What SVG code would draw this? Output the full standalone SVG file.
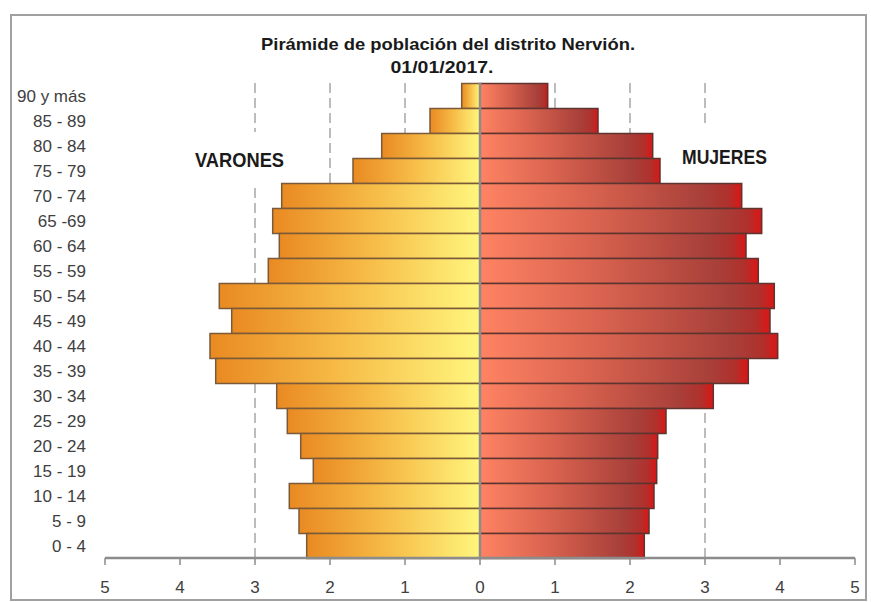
<svg xmlns="http://www.w3.org/2000/svg" width="871" height="602" viewBox="0 0 871 602">
<style>
.lbl{font-family:"Liberation Sans",Arial,sans-serif;font-size:17px;fill:#404040;text-anchor:end}
.ax{font-family:"Liberation Sans",Arial,sans-serif;font-size:17px;fill:#404040;text-anchor:middle}
.ttl{font-family:"Liberation Sans",Arial,sans-serif;font-size:17px;font-weight:bold;fill:#1a1a1a;text-anchor:middle}
.big{font-family:"Liberation Sans",Arial,sans-serif;font-size:20px;font-weight:bold;fill:#1a1a1a}
.grid{stroke:#A6A6A6;stroke-width:1.5;stroke-dasharray:10 5;fill:none}
.m{fill:url(#gm);stroke:#7A5A38;stroke-width:1.5}
.w{fill:url(#gw);stroke:#5E3430;stroke-width:1.5}
</style>
<defs>
<linearGradient id="gm" x1="0" y1="0" x2="1" y2="0">
<stop offset="0" stop-color="#E98A22"/>
<stop offset="0.45" stop-color="#F6BA45"/>
<stop offset="1" stop-color="#FFF67E"/>
</linearGradient>
<linearGradient id="gw" x1="0" y1="0" x2="1" y2="0">
<stop offset="0" stop-color="#FF8363"/>
<stop offset="0.4" stop-color="#DA6450"/>
<stop offset="0.85" stop-color="#A8403A"/>
<stop offset="0.95" stop-color="#B0302C"/>
<stop offset="1" stop-color="#DD1515"/>
</linearGradient>
</defs>
<rect x="0" y="0" width="871" height="602" fill="#fff"/>
<rect id="frame" x="11" y="15" width="855" height="585" fill="#fff" stroke="#A0A0A0" stroke-width="2"/>
<g id="title">
<text class="ttl" x="448" y="50" textLength="374" lengthAdjust="spacingAndGlyphs">Pirámide de población del distrito Nervión.</text>
<text class="ttl" x="442" y="73" textLength="103" lengthAdjust="spacingAndGlyphs">01/01/2017.</text>
</g>
<g id="gridlines">
<line class="grid" x1="255" y1="83" x2="255" y2="558"/>
<line class="grid" x1="330" y1="83" x2="330" y2="558"/>
<line class="grid" x1="405" y1="83" x2="405" y2="558"/>
<line class="grid" x1="555" y1="83" x2="555" y2="558"/>
<line class="grid" x1="630" y1="83" x2="630" y2="558"/>
<line class="grid" x1="705" y1="83" x2="705" y2="558"/>
</g>
<g id="sex-labels">
<rect x="190" y="132" width="100" height="51" fill="#fff"/>
<rect x="676" y="127" width="98" height="56" fill="#fff"/>
<text class="big" x="195" y="167" textLength="89" lengthAdjust="spacingAndGlyphs">VARONES</text>
<text class="big" x="682" y="164" textLength="85" lengthAdjust="spacingAndGlyphs">MUJERES</text>
</g>
<g id="bars-men">
<rect class="m" x="461.7" y="83.5" width="18.3" height="25"/>
<rect class="m" x="430" y="108.5" width="50" height="25"/>
<rect class="m" x="381.7" y="133.5" width="98.3" height="25"/>
<rect class="m" x="353" y="158.5" width="127" height="25"/>
<rect class="m" x="281.7" y="183.5" width="198.3" height="25"/>
<rect class="m" x="272.7" y="208.5" width="207.3" height="25"/>
<rect class="m" x="279.3" y="233.5" width="200.7" height="25"/>
<rect class="m" x="268.3" y="258.5" width="211.7" height="25"/>
<rect class="m" x="219.3" y="283.5" width="260.7" height="25"/>
<rect class="m" x="231.7" y="308.5" width="248.3" height="25"/>
<rect class="m" x="210" y="333.5" width="270" height="25"/>
<rect class="m" x="215.7" y="358.5" width="264.3" height="25"/>
<rect class="m" x="276.7" y="383.5" width="203.3" height="25"/>
<rect class="m" x="287.3" y="408.5" width="192.7" height="25"/>
<rect class="m" x="300.7" y="433.5" width="179.3" height="25"/>
<rect class="m" x="313.3" y="458.5" width="166.7" height="25"/>
<rect class="m" x="289.3" y="483.5" width="190.7" height="25"/>
<rect class="m" x="299" y="508.5" width="181" height="25"/>
<rect class="m" x="306.7" y="533.5" width="173.3" height="25"/>
</g>
<g id="bars-women">
<rect class="w" x="480" y="83.5" width="67.7" height="25"/>
<rect class="w" x="480" y="108.5" width="118" height="25"/>
<rect class="w" x="480" y="133.5" width="172.7" height="25"/>
<rect class="w" x="480" y="158.5" width="180" height="25"/>
<rect class="w" x="480" y="183.5" width="261.7" height="25"/>
<rect class="w" x="480" y="208.5" width="281.7" height="25"/>
<rect class="w" x="480" y="233.5" width="266" height="25"/>
<rect class="w" x="480" y="258.5" width="278.3" height="25"/>
<rect class="w" x="480" y="283.5" width="294.3" height="25"/>
<rect class="w" x="480" y="308.5" width="290" height="25"/>
<rect class="w" x="480" y="333.5" width="297.7" height="25"/>
<rect class="w" x="480" y="358.5" width="268.3" height="25"/>
<rect class="w" x="480" y="383.5" width="233.3" height="25"/>
<rect class="w" x="480" y="408.5" width="186" height="25"/>
<rect class="w" x="480" y="433.5" width="177.7" height="25"/>
<rect class="w" x="480" y="458.5" width="176.7" height="25"/>
<rect class="w" x="480" y="483.5" width="174" height="25"/>
<rect class="w" x="480" y="508.5" width="169" height="25"/>
<rect class="w" x="480" y="533.5" width="164.3" height="25"/>
</g>
<g id="axes" stroke="#8C8C8C" fill="none">
<line x1="480" y1="83" x2="480" y2="558" stroke-width="2.5"/>
<line x1="105" y1="558" x2="855" y2="558" stroke-width="2.5"/>
<path d="M105 558V565M180 558V565M255 558V565M330 558V565M405 558V565M480 558V565M555 558V565M630 558V565M705 558V565M780 558V565M855 558V565" stroke-width="1.5"/>
</g>
<g id="axis-labels">
<text class="ax" x="105" y="593">5</text>
<text class="ax" x="180" y="593">4</text>
<text class="ax" x="255" y="593">3</text>
<text class="ax" x="330" y="593">2</text>
<text class="ax" x="405" y="593">1</text>
<text class="ax" x="480" y="593">0</text>
<text class="ax" x="555" y="593">1</text>
<text class="ax" x="630" y="593">2</text>
<text class="ax" x="705" y="593">3</text>
<text class="ax" x="780" y="593">4</text>
<text class="ax" x="855" y="593">5</text>
</g>
<g id="age-labels">
<text class="lbl" x="86" y="102">90 y más</text>
<text class="lbl" x="86" y="127">85 - 89</text>
<text class="lbl" x="86" y="152">80 - 84</text>
<text class="lbl" x="86" y="177">75 - 79</text>
<text class="lbl" x="86" y="202">70 - 74</text>
<text class="lbl" x="86" y="227">65 -69</text>
<text class="lbl" x="86" y="252">60 - 64</text>
<text class="lbl" x="86" y="277">55 - 59</text>
<text class="lbl" x="86" y="302">50 - 54</text>
<text class="lbl" x="86" y="327">45 - 49</text>
<text class="lbl" x="86" y="352">40 - 44</text>
<text class="lbl" x="86" y="377">35 - 39</text>
<text class="lbl" x="86" y="402">30 - 34</text>
<text class="lbl" x="86" y="427">25 - 29</text>
<text class="lbl" x="86" y="452">20 - 24</text>
<text class="lbl" x="86" y="477">15 - 19</text>
<text class="lbl" x="86" y="502">10 - 14</text>
<text class="lbl" x="86" y="527">5 - 9</text>
<text class="lbl" x="86" y="552">0 - 4</text>
</g>
</svg>
